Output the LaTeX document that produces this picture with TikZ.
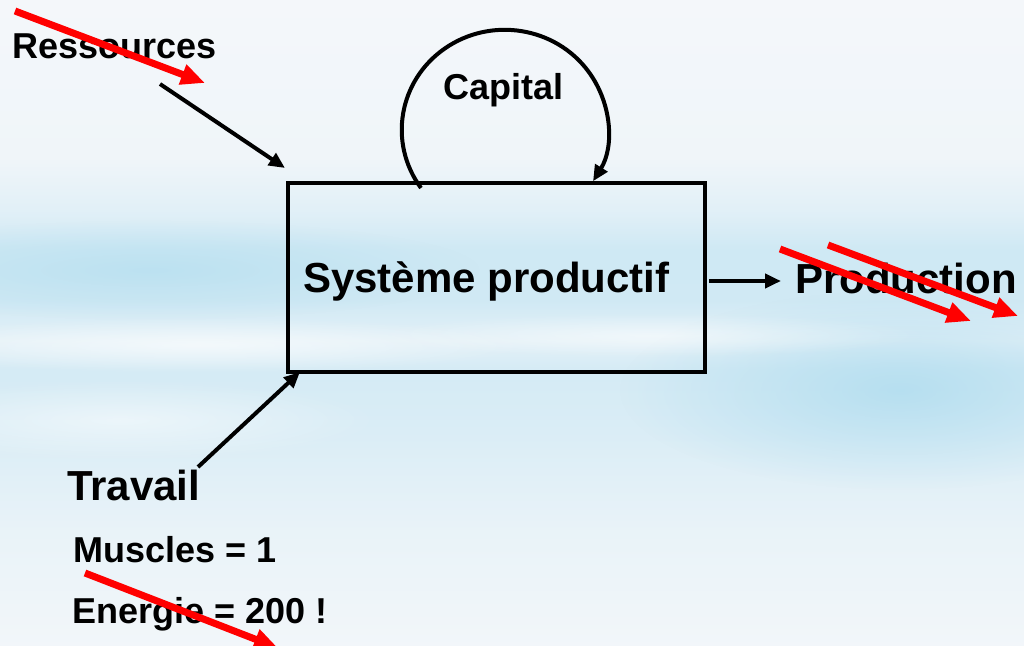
\documentclass[tikz,border=0pt]{standalone}
\usepackage{fontspec}
\setmainfont{Liberation Sans}
\usepackage{tikz}
\usetikzlibrary{arrows.meta,fadings}

\definecolor{skyblue}{HTML}{A9DAEE}
\definecolor{skypale}{HTML}{F4F7FA}
\pgfdeclareverticalshading{skyshade}{100bp}{%
  color(0bp)=(skypale); color(25bp)=(skypale!97!skyblue);
  color(34bp)=(skypale!85!skyblue); color(41.7bp)=(skypale!65!skyblue);
  color(46.3bp)=(skypale!58!skyblue); color(48.6bp)=(skypale!78!skyblue);
  color(51.7bp)=(skypale!52!skyblue); color(55.6bp)=(skypale!50!skyblue);
  color(58.7bp)=(skypale!75!skyblue); color(62.6bp)=(skypale!94!skyblue);
  color(75bp)=(skypale); color(100bp)=(skypale)}
\tikzfading[name=softcloud, inner color=transparent!0, outer color=transparent!100]

\tikzset{
  big/.style={font=\fontsize{42}{46}\selectfont\bfseries, inner sep=0pt, anchor=base west},
  small/.style={font=\fontsize{36}{40}\selectfont\bfseries, inner sep=0pt, anchor=base west},
  blk/.style={line width=4pt, -{Triangle[length=16pt,width=14pt]}},
  redarrow/.style={red, line width=7pt, -{Triangle[length=24pt,width=20pt]}}
}

\begin{document}
\begin{tikzpicture}[x=1pt, y=-1pt, line join=miter]

\clip (0,0) rectangle (1024,645);
\shade[shading=skyshade] (0,0) rectangle (1024,645);
% clouds
\fill[skyblue, opacity=0.7, path fading=softcloud] (900,390) ellipse[x radius=280, y radius=100];
\fill[skyblue, opacity=0.5, path fading=softcloud] (150,270) ellipse[x radius=330, y radius=50];
\fill[white, opacity=0.6, path fading=softcloud] (200,345) ellipse[x radius=330, y radius=28];
\fill[white, opacity=0.5, path fading=softcloud] (650,335) ellipse[x radius=280, y radius=22];
\fill[white, opacity=0.5, path fading=softcloud] (120,420) ellipse[x radius=260, y radius=40];

\node[draw, line width=4pt, minimum width=417pt, minimum height=189pt] (sys) at (496.5,277.5) {};
\node[big] (systxt) at (303,292) {Système productif};

\node[small] (res) at (12,58) {Ressources};
\node[small] (cap) at (443,99) {Capital};
\node[big] (prod) at (795,293) {Production};
\node[big] (trav) at (67,500) {Travail};
\node[small] (musc) at (73,562) {Muscles = 1};
\node[small] (ener) at (72,623) {Energie = 200 !};

\coordinate (resstart) at (160,84);
\coordinate (travstart) at (198,467);
\coordinate (capstart) at ([shift={(-75.5,7)}]sys.north);
\coordinate (prodin) at ([shift={(-14,-12)}]prod.base west);

\draw[blk] (resstart) -- ([shift={(-1,-13)}]sys.north west);
\draw[blk] (travstart) -- ([shift={(14,-2)}]sys.south west);
\draw[blk] ([xshift=2pt]sys.east |- prodin) -- (prodin);
\draw[blk] (capstart) arc[start angle=215.6, end angle=-31, x radius=103pt, y radius=100pt];

% corrections
\draw[redarrow] (15,11) -- (205,83);
\draw[redarrow] (780,249) -- (971,321);
\draw[redarrow] (828,245) -- (1018,316);
\draw[redarrow] (85,573) -- (278,648);

\end{tikzpicture}
\end{document}
